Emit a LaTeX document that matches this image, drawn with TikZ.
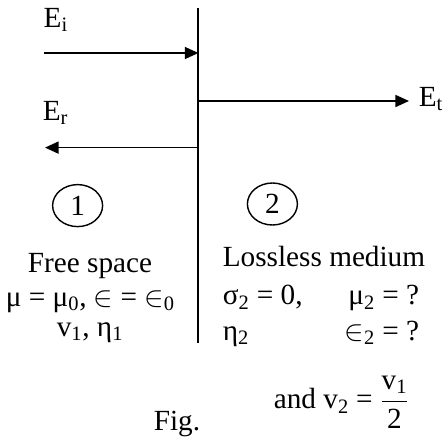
\documentclass[tikz,border=0pt]{standalone}
\usepackage{amsmath}
\usepackage{fontspec}
\setmainfont{Liberation Serif}
\usepackage{tikz}
\usetikzlibrary{arrows.meta, shapes.geometric}

\begin{document}
\begin{tikzpicture}[>={Triangle[length=0.34cm, width=0.3cm]}, line width=1.2pt,
    every node/.style={font=\fontsize{20.8}{24}\selectfont, inner sep=0pt},
    region/.style={draw, line width=1pt, ellipse, minimum width=1.25cm, minimum height=1.05cm}]
      \useasboundingbox (0, 0) rectangle (11.15, 10.9);
      % interface between the two media
      \coordinate (top) at (4.96, 10.7);
      \coordinate (bot) at (4.96, 2.325);
      \draw[line width=1.4pt] (top) -- (bot);
      % waves
      \coordinate (inc) at (1.1, 9.575);
      \coordinate (trn) at (10.225, 8.375);
      \coordinate (ref) at (1.125, 7.21);
      \draw[->] (inc) -- (inc -| top);
      \draw[->] (trn -| top) -- (trn);
      \draw[->] (ref -| top) -- (ref);
      \node[anchor=base west] (Ei) at (1.07, 10.225) {E\textsubscript{i}};
      \node[anchor=base west] (Er) at (1.05, 7.9) {E\textsubscript{r}};
      \node[anchor=base west] (Et) at (10.45, 8.25) {E\textsubscript{t}};
      % medium 1
      \node[region] (reg1) at (1.94, 5.76) {1};
      \node[anchor=base] (free) at (2.25, 4.08) {Free space};
      \node[anchor=base] (mu1) at (2.26, 3.25) {μ = μ\textsubscript{0}, $\in$ = $\in$\textsubscript{0}};
      \node[anchor=base] (vel1) at (2.25, 2.5) {v\textsubscript{1}, η\textsubscript{1}};
      % medium 2
      \node[region] (reg2) at (6.81, 5.8) {2};
      \node[anchor=base west] (loss) at (5.55, 4.25) {Lossless medium};
      \node[anchor=base west] (sig2) at (5.55, 3.28) {σ\textsubscript{2} = 0,};
      \node[anchor=base east] (mu2) at (10.5, 3.28) {μ\textsubscript{2} = ?};
      \node[anchor=base west] (eta2) at (5.55, 2.4) {η\textsubscript{2}};
      \node[anchor=base east] (eps2) at (10.5, 2.4) {$\in$\textsubscript{2} = ?};
      \node[anchor=base west] (vel2) at (6.825, 0.68) {and v\textsubscript{2} = $\dfrac{\text{v\textsubscript{1}}}{\text{2}}$};
      \node[anchor=base west] (cap) at (3.825, 0.15) {Fig.};
    \end{tikzpicture}
\end{document}
